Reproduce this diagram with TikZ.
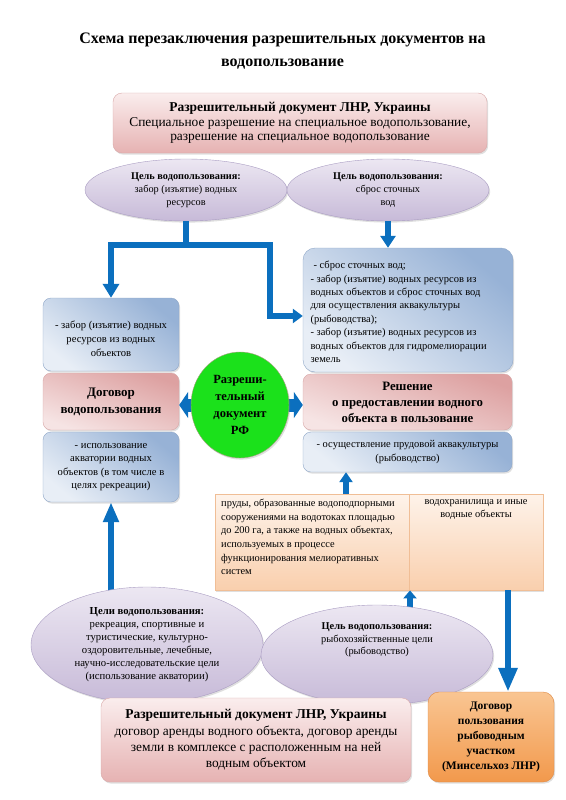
\documentclass[tikz,border=0pt]{standalone}
\usepackage{fontspec}
\setmainfont{Liberation Serif}
\usetikzlibrary{arrows.meta,shapes.geometric,shadows}
\definecolor{ablue}{HTML}{0B6FBE}
\definecolor{pinkL}{HTML}{FAEDED}
\definecolor{pinkM}{HTML}{E6B2B2}
\definecolor{pinkE}{HTML}{D8A8A8}
\definecolor{roseD}{HTML}{DDA1A1}
\definecolor{roseL}{HTML}{F6E4E4}
\definecolor{blueD}{HTML}{97B2D6}
\definecolor{blueL}{HTML}{E8EEF6}
\definecolor{blueE}{HTML}{8FA7C8}
\definecolor{lavT}{HTML}{ECE7F2}
\definecolor{lavB}{HTML}{C7BAD8}
\definecolor{lavE}{HTML}{A99CC2}
\definecolor{grn}{HTML}{1BE11B}
\definecolor{grnE}{HTML}{A8A080}
\definecolor{orT}{HTML}{F9C592}
\definecolor{orB}{HTML}{F2994C}
\definecolor{orE}{HTML}{DE8944}
\definecolor{tabT}{HTML}{FEF3EA}
\definecolor{tabB}{HTML}{F9CFAD}
\definecolor{tabE}{HTML}{F0BE96}
\newcommand{\fsz}[2]{\fontsize{#1}{#2}\selectfont}
\tikzset{
  shad/.style={drop shadow={opacity=0.25,shadow xshift=1.2pt,shadow yshift=-1.6pt}},
  pinkbox/.style={rectangle, rounded corners=9pt, draw=pinkE, top color=pinkL, bottom color=pinkM, shad, inner sep=0pt, align=center},
  rosebox/.style={rectangle, rounded corners=8pt, draw=pinkE, top color=roseD, bottom color=roseL, shading angle=-20, shad, inner sep=0pt, align=center},
  bluebox/.style={rectangle, rounded corners=8pt, draw=blueE, top color=blueD, bottom color=blueL, shading angle=-40, shad, inner sep=0pt, align=center},
  lavell/.style={ellipse, draw=lavE, top color=lavT, bottom color=lavB, shad, inner sep=0pt, align=center},
  tabbox/.style={rectangle, draw=tabE, top color=tabT, bottom color=tabB, shad, inner sep=0pt},
  orbox/.style={rectangle, rounded corners=11pt, draw=orE, top color=orT, bottom color=orB, shad, inner sep=0pt, align=center},
  bline/.style={draw=ablue, line width=6pt, line join=miter},
  barrow/.style={bline, -{Triangle[length=14pt,width=16pt]}},
  carrow/.style={draw=ablue, line width=13pt, -{Triangle[length=9pt,width=26pt]}}
}
\begin{document}
\begin{tikzpicture}[x=1pt,y=-1pt]
\useasboundingbox (0,0) rectangle (565,800);

% title
\node[font=\bfseries\fsz{16}{23}, align=center] (title) at (282.5,51)
  {Схема перезаключения разрешительных документов на\\водопользование};

% top box
\node[pinkbox, minimum width=374pt, minimum height=60pt, font=\fsz{13.4}{14.5}] (topb) at (300,123)
  {{\bfseries\fsz{13.5}{14.5}Разрешительный документ ЛНР, Украины}\\Специальное разрешение на специальное водопользование,\\разрешение на специальное водопользование};

% upper ellipses
\node[lavell, minimum width=202pt, minimum height=62pt, font=\fsz{10.3}{13}] (eL) at (186,190)
  {\textbf{Цель водопользования:}\\забор (изъятие) водных\\ресурсов};
\node[lavell, minimum width=202pt, minimum height=62pt, font=\fsz{10.3}{13}] (eR) at (388,190)
  {\textbf{Цель водопользования:}\\сброс сточных\\вод};

% left column
\node[bluebox, minimum width=136pt, minimum height=73pt] (ltop) at (111,334.5) {};
\node[font=\fsz{10.6}{14}, align=center] (ltopt) at (111,339)
  {- забор (изъятие) водных\\ресурсов из водных\\объектов};
\node[rosebox, minimum width=136pt, minimum height=57pt, font=\bfseries\fsz{13}{17}] (dog) at (111,401.5)
  {Договор\\водопользования};
\node[bluebox, minimum width=136pt, minimum height=70pt, font=\fsz{10.6}{13.5}] (lbot) at (111,467)
  {- использование\\акватории водных\\объектов (в том числе в\\целях рекреации)};

% right column
\node[bluebox, rounded corners=12pt, minimum width=210pt, minimum height=124pt] (rbig) at (408,310) {};
\node[font=\fsz{10.5}{13.45}, align=left, anchor=west] (rbigt) at (307,312)
  {\hspace{3pt}- сброс сточных вод;\\
   - забор (изъятие) водных ресурсов из\\
   водных объектов и сброс сточных вод\\
   для осуществления аквакультуры\\
   (рыбоводства);\\
   - забор (изъятие) водных ресурсов из\\
   водных объектов для гидромелиорации\\
   земель};
\node[rosebox, minimum width=209pt, minimum height=56pt, font=\bfseries\fsz{12.8}{16}] (resh) at (407.5,402)
  {Решение\\о предоставлении водного\\объекта в пользование};
\node[bluebox, minimum width=209pt, minimum height=40pt, font=\fsz{10.5}{14.5}] (rsmall) at (407.5,452)
  {- осуществление прудовой аквакультуры\\(рыбоводство)};

% centre circle
\draw[carrow] (240,405) -- (240,405 -| dog.east);
\draw[carrow] (240,405) -- (240,405 -| resh.west);
\node[ellipse, draw=grnE, fill=grn, minimum width=98pt, minimum height=106pt, inner sep=0pt,
      align=center, font=\bfseries\fsz{12.5}{17.2}, shad] (circ) at (240,405)
  {Разреши-\\тельный\\документ\\РФ};

% table
\node[tabbox, anchor=north west, minimum width=194pt, minimum height=96pt] (tabL) at (215,494) {};
\node[tabbox, anchor=north west, minimum width=134pt, minimum height=96pt] (tabR) at (409,494) {};
\node[anchor=north west, align=left, font=\fsz{10.4}{13.6}, inner sep=0pt] (tabLt) at (221,499)
  {пруды, образованные водоподпорными\\
   сооружениями на водотоках площадью\\
   до 200 га, а также на водных объектах,\\
   используемых в процессе\\
   функционирования мелиоративных\\
   систем};
\node[anchor=north, align=center, font=\fsz{10.4}{13.6}, inner sep=0pt] (tabRt) at (476,499)
  {водохранилища и иные\\водные объекты};

% upper arrows
\coordinate (j) at (186,245);
\coordinate (k) at (270,245);
\coordinate (r1) at (270,316);
\draw[bline] (eL.south) -- (j);
\draw[barrow] (j) -| (ltop.north);
\draw[barrow, -{Triangle[length=10pt,width=14pt]}] (j) -- (k) -- (r1) -- (r1 -| rbig.west);
\draw[barrow, -{Triangle[length=12pt,width=15pt]}] (eR.south) -- (eR.south |- rbig.north);

% arrows around the table
\coordinate (a1) at (346,494);
\draw[barrow, -{Triangle[length=10pt,width=13pt]}] (a1) -- (a1 |- rsmall.south);
\coordinate (a2) at (410,612);
\draw[barrow, -{Triangle[length=8pt,width=13pt]}] (a2) -- (a2 |- tabL.south);
\coordinate (a4) at (111,594);
\draw[barrow, -{Triangle[length=20pt,width=15pt]}] (a4) -- (lbot.south);

% bottom ellipses
\node[lavell, minimum width=232pt, minimum height=116pt, font=\fsz{10.7}{13}] (eBL) at (147,645)
  {\textbf{Цели водопользования:}\\рекреация, спортивные и\\туристические, культурно-\\оздоровительные, лечебные,\\научно-исследовательские цели\\(использование акватории)};
\node[lavell, minimum width=232pt, minimum height=100pt] (eBM) at (377,655) {};
\node[font=\fsz{10.4}{12.5}, align=center] (eBMt) at (377,640)
  {\textbf{Цель водопользования:}\\рыбохозяйственные цели\\(рыбоводство)};

% bottom boxes
\node[pinkbox, minimum width=310pt, minimum height=84pt, font=\fsz{13.4}{16.3}] (botb) at (256,740)
  {{\bfseries\fsz{13.5}{16.3}Разрешительный документ ЛНР, Украины}\\договор аренды водного объекта, договор аренды\\земли в комплексе с расположенным на ней\\водным объектом};
\node[orbox, minimum width=126pt, minimum height=90pt, font=\bfseries\fsz{11.5}{15}] (ob) at (491,737)
  {Договор\\пользования\\рыбоводным\\участком\\(Минсельхоз ЛНР)};

\coordinate (a3) at (508,590);
\draw[barrow, -{Triangle[length=24pt,width=18pt]}] (a3) -- (a3 |- ob.north);
\end{tikzpicture}
\end{document}
